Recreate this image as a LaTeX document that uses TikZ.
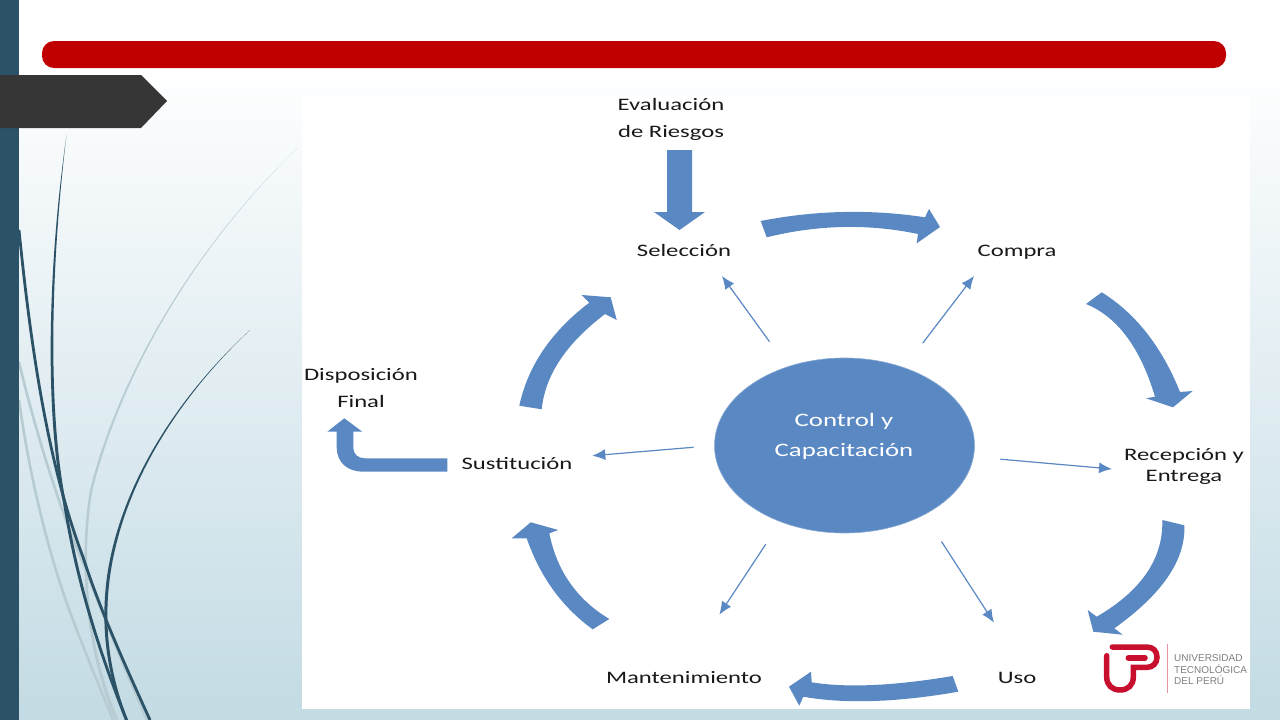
\documentclass[tikz,border=0pt]{standalone}
\usepackage{fontspec}
\usetikzlibrary{shapes.geometric, arrows.meta}
\newfontfamily\lblfont[FakeStretch=1.41]{Carlito}
\setsansfont{Liberation Sans}
\definecolor{stripblue}{HTML}{2C5268}
\definecolor{bgblue}{HTML}{C3DBE4}
\definecolor{barred}{HTML}{C00000}
\definecolor{tagdark}{HTML}{363636}
\definecolor{blockblue}{HTML}{5A88C3}
\definecolor{reedlight}{HTML}{B7CBD3}
\definecolor{logored}{HTML}{C8102E}
\tikzset{
	lbl/.style={font=\lblfont\fontsize{17.5}{27}\selectfont, text=black!90, align=center, inner sep=0pt},
	blockarrow/.style={fill=blockblue, draw=none},
	linkarrow/.style={-{Latex[length=13pt, width=11pt]}, blockblue, line width=1.2pt},
	reed/.style={stripblue, line width=2.8pt},
	reedpale/.style={reedlight, line width=2.6pt},
	logostroke/.style={logored, line width=5.5pt, line cap=round},
	logotext/.style={font=\sffamily\fontsize{10}{12}\selectfont, text=black!50, align=left, inner sep=0pt, anchor=west}
}
\begin{document}
\begin{tikzpicture}[x=1pt, y=-1pt]
	\useasboundingbox (0,0) rectangle (1280,720);
	\shade[top color=white, middle color=bgblue!45!white, bottom color=bgblue] (0,60) rectangle (1280,720);
	% pale reeds
	\fill[reedlight] (298,148) .. controls (200,240) and (120,370) .. (90,490) .. controls (78,560) and (85,650) .. (115,720)
		-- (118.5,720) .. controls (88,650) and (80.5,560) .. (92.5,490) .. controls (122,370) and (200.7,240) .. (298,148) -- cycle;
	\draw[reedpale] (19,362) .. controls (35,430) and (60,510) .. (83,563) .. controls (103,615) and (125,670) .. (147,720);
	\draw[reedpale] (19,400) .. controls (30,480) and (50,560) .. (73,620) .. controls (88,660) and (103,695) .. (113,720);
	% dark reeds
	\fill[stripblue] (66.5,135) .. controls (46,280) and (46,420) .. (63,503) .. controls (75,580) and (97,650) .. (125,720)
		-- (128,720) .. controls (100,650) and (78,580) .. (66,503) .. controls (49,420) and (49,280) .. (66.5,135) -- cycle;
	\draw[reed] (19,230) .. controls (32,360) and (50,470) .. (83,557) .. controls (100,610) and (125,665) .. (150,720);
	\fill[stripblue] (250,330) .. controls (190,385) and (125,470) .. (108,570) .. controls (100,620) and (105,670) .. (125,720)
		-- (128,720) .. controls (108,670) and (103,620) .. (111,570) .. controls (127,470) and (191.5,385) .. (250,330) -- cycle;
	\fill[stripblue] (0,0) rectangle (19,720);
	% title bar and tag
	\fill[barred, rounded corners=12pt] (42,41) rectangle (1226,68);
	\fill[tagdark] (0,75) -- (141,75) -- (167,101) -- (141,128) -- (0,128) -- cycle;
	\fill[white] (302,95) rectangle (1250,709);
	% centre
	\node[ellipse, fill=blockblue, draw=blockblue!70!white, line width=0.6pt, minimum width=260pt, minimum height=175pt, inner sep=0pt, outer sep=0pt] (ctrl) at (844.5,445.5) {};
	\node[lbl, text=white, font=\lblfont\fontsize{19}{30}\selectfont] (ctrltxt) at (844,436.5) {Control y\\Capacitación};
	% labels
	\node[lbl] (riesgos) at (671,119) {Evaluación\\de Riesgos};
	\node[lbl] (selec) at (684,250.5) {Selección};
	\node[lbl] (compra) at (1017,252) {Compra};
	\node[lbl, font=\lblfont\fontsize{17.5}{21}\selectfont] (recep) at (1184,466) {Recepción y\\Entrega};
	\node[lbl] (uso) at (1017,677.5) {Uso};
	\node[lbl] (mante) at (684,677.5) {Mantenimiento};
	\node[lbl] (susti) at (517,464) {Sustitución};
	\node[lbl] (dispo) at (361,388.5) {Disposición\\Final};
	% thin arrows
	\coordinate (tipselec) at (722,276);
	\coordinate (tipcompra) at (974,276);
	\coordinate (tiprecep) at (1112,469);
	\coordinate (tipuso) at (994,622.7);
	\coordinate (tipmante) at (719.3,614.7);
	\coordinate (tipsusti) at (592.3,455.7);
	\draw[linkarrow, shorten <=31pt] (ctrl) -- (tipselec);
	\draw[linkarrow, shorten <=31pt] (ctrl) -- (tipcompra);
	\draw[linkarrow, shorten <=27pt] (ctrl) -- (tiprecep);
	\draw[linkarrow, shorten <=32pt] (ctrl.-41) -- (tipuso);
	\draw[linkarrow, shorten <=27pt] (ctrl.230) -- (tipmante);
	\draw[linkarrow, shorten <=21pt] (ctrl.west) -- (tipsusti);
	% block arrows
	\fill[blockarrow] (667,150) -- (692,150) -- (692,212) -- (705,212) -- (679.5,230) -- (654,212) -- (667,212) -- cycle;
	\fill[blockarrow] (760.7,221) .. controls (815.67,210.23) and (870.43,209) .. (925,217.3) -- (929,209) -- (940,227) -- (916.7,243.3) -- (918,234)
		.. controls (868.43,223.57) and (818,224.67) .. (766.7,237.3) -- cycle;
	\fill[blockarrow] (1101.7,292.3) .. controls (1135.6,313.33) and (1161.7,346.57) .. (1180,392) -- (1192.7,391) -- (1173,407.3) -- (1146,398.3) -- (1155,396.7)
		.. controls (1140.27,347.6) and (1117.27,316.7) .. (1086,304) -- cycle;
	\fill[blockarrow] (1184.3,525.3) .. controls (1185.9,559.5) and (1162.57,593.83) .. (1114.3,628.3) -- (1122.7,634.7) -- (1093.3,631.7) -- (1087.7,610) -- (1096.7,616.7)
		.. controls (1141.5,590.67) and (1163.37,558.43) .. (1162.3,520) -- cycle;
	\fill[blockarrow] (952.7,676) .. controls (893.83,685.9) and (846.83,688) .. (811.7,682.3) -- (811,671.7) -- (789,686.7) -- (799.3,705.7) -- (803.3,696.7)
		.. controls (844.97,704.1) and (896.63,702.43) .. (958.3,691.7) -- cycle;
	\fill[blockarrow] (592.7,629.3) .. controls (562.17,607.23) and (540.17,576.9) .. (526.7,538.3) -- (511.7,538.3) -- (530.7,522.3) -- (558.3,530) -- (549.3,533.3)
		.. controls (556.9,571) and (576.9,599.57) .. (609.3,619) -- cycle;
	\fill[blockarrow] (519.3,405.7) .. controls (528,365.77) and (551.3,331.43) .. (589.3,302.7) -- (581.7,295) -- (610.7,297.3) -- (616.7,320) -- (605,314)
		.. controls (566.1,343.57) and (545,375.33) .. (541.7,409.3) -- cycle;
	\fill[blockarrow] (447.3,458.3) -- (365,458.3) .. controls (358,458.3) and (353.3,454) .. (353.3,448) -- (353.3,431.7) -- (362.3,431.7) -- (344.3,418.3)
		-- (327.3,431.7) -- (336.7,431.7) -- (336.7,447) .. controls (336.7,463) and (348,471.7) .. (363.3,471.7) -- (447.3,471.7) -- cycle;
	% logo
	\draw[logostroke] (1112.3,647) -- (1146.7,647) .. controls (1153,647) and (1157,651) .. (1157,657.2) .. controls (1157,663) and (1153,667.4) .. (1146.7,667.4)
		-- (1133.3,667.4) -- (1133.3,677) .. controls (1133.3,685) and (1128,690) .. (1120,690) .. controls (1112,690) and (1106.7,685) .. (1106.7,677) -- (1106.7,655.7);
	\draw[logostroke] (1128.3,658) -- (1145,658);
	\draw[logored!45!white, line width=1pt] (1167,644) -- (1167,693);
	\node[logotext] (utp1) at (1174,658) {UNIVERSIDAD};
	\node[logotext] (utp2) at (1174,669) {TECNOLÓGICA};
	\node[logotext] (utp3) at (1174,680) {DEL PERÚ};
\end{tikzpicture}
\end{document}
